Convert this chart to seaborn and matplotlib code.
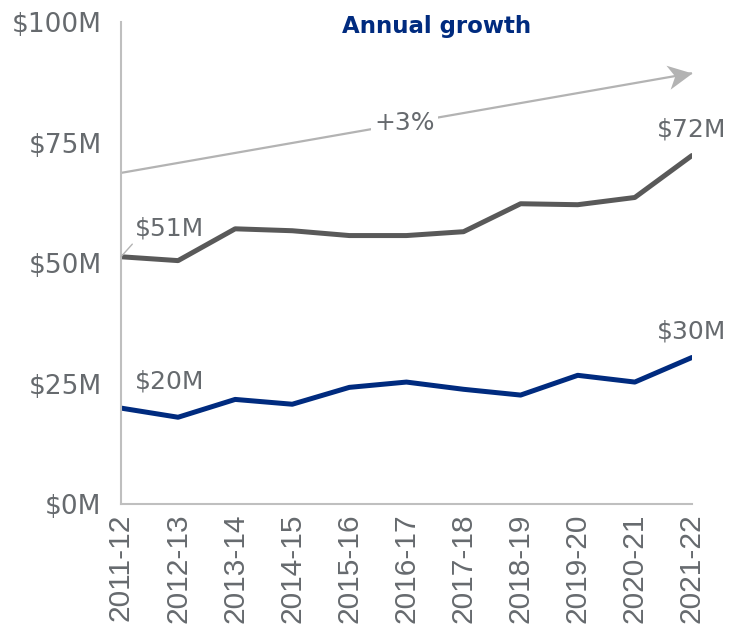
import matplotlib
matplotlib.use("Agg")
import matplotlib.pyplot as plt
import seaborn as sns
import pandas as pd
import numpy as np
from matplotlib.path import Path
from matplotlib.markers import MarkerStyle
from matplotlib.transforms import Affine2D

years = ["2011-12", "2012-13", "2013-14", "2014-15", "2015-16", "2016-17",
         "2017-18", "2018-19", "2019-20", "2020-21", "2021-22"]
total = [51.3, 50.5, 57.1, 56.7, 55.7, 55.7, 56.5, 62.3, 62.1, 63.6, 72.3]
segment = [19.9, 18.0, 21.7, 20.7, 24.2, 25.3, 23.8, 22.6, 26.7, 25.3, 30.4]
y_ticks = [0, 25, 50, 75, 100]
y_labels = ["$0M", "$25M", "$50M", "$75M", "$100M"]
trend_start, trend_end = 68.7, 89.4
trend_label = "+3%"

GRAY = "#595959"
NAVY = "#002b7f"
TEXT = "#666a6e"
LIGHT = "#b3b3b3"
FS = 18

sns.set_style("white")
plt.rcParams["font.family"] = ["DejaVu Sans"]

df = pd.DataFrame({
    "idx": list(range(len(years))) * 2,
    "value": total + segment,
    "series": ["total"] * len(years) + ["segment"] * len(years),
})

fig = plt.figure(figsize=(7.31, 6.3), dpi=100)
ax = fig.add_axes([0.1655, 0.2, 0.781, 0.765])

sns.lineplot(data=df, x="idx", y="value", hue="series",
             palette={"total": GRAY, "segment": NAVY},
             linewidth=3.6, legend=False, ax=ax)

ax.set_xlim(0, len(years) - 1)
ax.set_ylim(0, 100)
ax.set_xticks(range(len(years)))
ax.set_xticklabels(years, rotation=90, fontsize=21.5, color=TEXT,
                   family="Liberation Sans")
ax.set_yticks(y_ticks)
ax.set_yticklabels(y_labels, fontsize=19, color=TEXT)
ax.set_xlabel("")
ax.set_ylabel("")
ax.tick_params(axis="y", length=0, pad=14)
ax.tick_params(axis="x", length=0, pad=7)

for side in ["top", "right"]:
    ax.spines[side].set_visible(False)
for side in ["left", "bottom"]:
    ax.spines[side].set_color("#bfbfbf")
    ax.spines[side].set_linewidth(1.5)

# growth trend arrow: shaft plus a notched head
x_end = len(years) - 1
ax.plot([0, x_end], [trend_start, trend_end], color=LIGHT, lw=1.6,
        solid_capstyle="butt", clip_on=False)
p0 = ax.transData.transform((0, trend_start))
p1 = ax.transData.transform((x_end, trend_end))
angle = np.degrees(np.arctan2(p1[1] - p0[1], p1[0] - p0[0]))
head = Path([(0, 0), (-1, 0.5), (-0.72, 0), (-1, -0.5), (0, 0)],
            [Path.MOVETO, Path.LINETO, Path.LINETO, Path.LINETO, Path.CLOSEPOLY])
marker = MarkerStyle(head, transform=Affine2D().rotate_deg(angle))
ax.plot([x_end], [trend_end], marker=marker, markersize=35, color=LIGHT,
        markeredgewidth=0, clip_on=False)

mid = 4.97
ax.text(mid, trend_start + (trend_end - trend_start) * mid / x_end, trend_label,
        fontsize=FS, color=TEXT, ha="center", va="center",
        bbox=dict(boxstyle="square,pad=0.12", fc="white", ec="none"))

# value labels
ax.annotate(f"${total[0]:.0f}M", xy=(0, total[0]), xytext=(0.25, 54.6),
            fontsize=FS, color=TEXT, ha="left", va="bottom",
            arrowprops=dict(arrowstyle="-", color=LIGHT, lw=1,
                            shrinkA=0, shrinkB=0, relpos=(0, 0)))
ax.text(0.25, 23.0, f"${segment[0]:.0f}M", fontsize=FS,
        color=TEXT, ha="left", va="bottom")
ax.text(x_end, total[-1] + 3.0, f"${total[-1]:.0f}M", fontsize=FS,
        color=TEXT, ha="center", va="bottom")
ax.text(x_end, segment[-1] + 3.0, f"${segment[-1]:.0f}M", fontsize=FS,
        color=TEXT, ha="center", va="bottom")

ax.text(5.53, 99, "Annual growth", fontsize=16.5, fontweight="bold",
        color=NAVY, ha="center", va="center")

fig.savefig("out.png", dpi=100)
